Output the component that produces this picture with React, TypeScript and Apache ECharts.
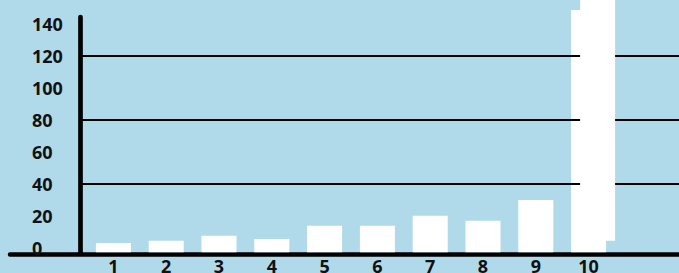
import React, { useEffect, useRef } from "react";
import * as echarts from "echarts";

const categories = ["1", "2", "3", "4", "5", "6", "7", "8", "9", "10"];
const barValues = [2.8, 4.25, 7.4, 5.3, 13.6, 13.6, 19.9, 16.8, 29.7, 148.6];
const overlayCategory = "10";
const overlayLow = 4.25;
const overlayHigh = 165;
const baseValue = -3;
const labelMax = 140;
const labelStep = 20;
const gridStep = 40;

const BG = "#B0DAEA";
const FONT = "'Noto Sans', 'Open Sans', sans-serif";

export default function App() {
  const ref = useRef<HTMLDivElement>(null);
  useEffect(() => {
    if (!ref.current) return;
    const chart = echarts.init(ref.current, null, { renderer: "svg" });
    const barW = 35;
    const shift = 9;
    const rectItem = (api: any, cat: number, lo: number, hi: number, dx: number) => {
      const p0 = api.coord([cat, lo]);
      const p1 = api.coord([cat, hi]);
      return {
        type: "rect",
        shape: {
          x: p0[0] - barW / 2 + dx,
          y: p1[1],
          width: barW,
          height: p0[1] - p1[1],
        },
        style: { fill: "#fff" },
      };
    };
    chart.setOption({
      animation: false,
      backgroundColor: BG,
      grid: [
        { left: 87, width: 528, top: 17, bottom: 20.7, containLabel: false, outerBoundsMode: "none" },
        { left: 80, right: 0, top: 23.7, bottom: 25.5, containLabel: false, outerBoundsMode: "none" },
        { left: 10, right: 0, bottom: 18.5, height: 1, containLabel: false, outerBoundsMode: "none" },
      ],
      xAxis: [
        {
          type: "category",
          gridIndex: 0,
          data: categories,
          axisLine: { show: false },
          axisTick: { show: false },
          axisLabel: {
            color: "#111",
            fontWeight: "bold",
            fontSize: 18,
            fontFamily: FONT,
            margin: 5,
          },
        },
        {
          type: "value",
          gridIndex: 1,
          show: false,
        },
        {
          type: "value",
          gridIndex: 2,
          min: 0,
          max: 1,
          axisLine: { show: true, onZero: false, lineStyle: { color: "#000", width: 4.5 } },
          axisTick: { show: false },
          axisLabel: { show: false },
          splitLine: { show: false },
        },
      ],
      yAxis: [
        {
          type: "value",
          gridIndex: 0,
          min: baseValue,
          max: 144.2,
          offset: 6.7,
          axisLine: { show: true, onZero: false, lineStyle: { color: "#000", width: 4.7 } },
          axisTick: { show: false },
          axisLabel: { show: false },
          splitLine: { show: false },
        },
        {
          type: "value",
          gridIndex: 1,
          min: 0,
          max: labelMax,
          interval: labelStep,
          axisLine: { show: false },
          axisTick: { show: false },
          splitLine: { show: false },
          axisLabel: {
            align: "left",
            margin: 48,
            color: "#111",
            fontWeight: "bold",
            fontSize: 18,
            fontFamily: FONT,
          },
        },
        {
          type: "value",
          gridIndex: 1,
          min: 0,
          max: labelMax,
          interval: gridStep,
          z: 3,
          axisLine: { show: false },
          axisTick: { show: false },
          axisLabel: { show: false },
          splitLine: {
            show: true,
            showMinLine: false,
            showMaxLine: false,
            lineStyle: { color: "#000", width: 2.2 },
          },
        },
        {
          type: "value",
          gridIndex: 2,
          show: false,
        },
      ],
      series: [
        {
          type: "custom",
          xAxisIndex: 0,
          yAxisIndex: 0,
          z: 2,
          clip: false,
          data: categories.map((c, i) => [c, barValues[i]]),
          encode: { x: 0, y: 1 },
          renderItem: (params: any, api: any) =>
            rectItem(api, api.value(0), baseValue, api.value(1), 0),
        },
        {
          type: "custom",
          xAxisIndex: 0,
          yAxisIndex: 0,
          z: 4,
          clip: false,
          data: [[overlayCategory, overlayLow, overlayHigh]],
          encode: { x: 0, y: [1, 2] },
          renderItem: (params: any, api: any) =>
            rectItem(api, api.value(0), api.value(1), api.value(2), shift),
        },
      ],
    });
    return () => chart.dispose();
  }, []);
  return (
    <div
      ref={ref}
      style={{ position: "fixed", left: 0, top: 0, width: 679, height: 273, background: BG }}
    />
  );
}
